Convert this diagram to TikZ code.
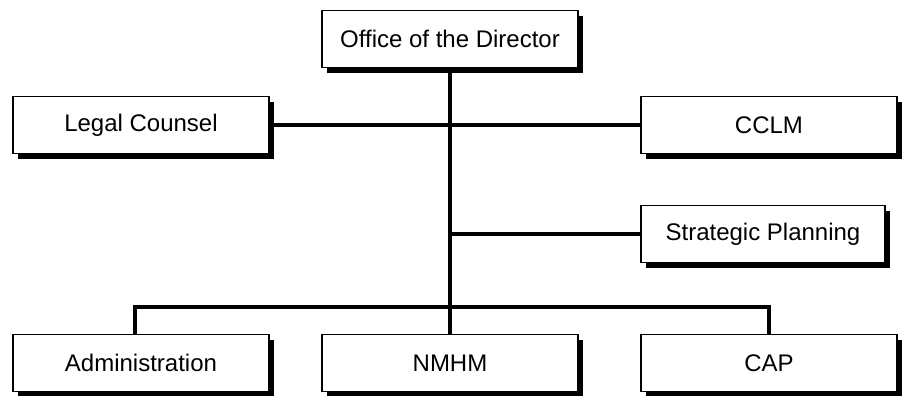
\documentclass[tikz,border=0pt]{standalone}
\usepackage{fontspec}
\setmainfont{Liberation Sans}
\usetikzlibrary{shadows,positioning}

\begin{document}
\begin{tikzpicture}[x=0.5pt, y=0.5pt,
  unit/.style={draw, line width=0.8pt, fill=white, minimum width=128pt, minimum height=28.5pt,
    font=\fontsize{12}{14}\selectfont,
    drop shadow={shadow xshift=2.5pt, shadow yshift=-3pt, fill=black, opacity=1}},
  link/.style={line width=1.6pt}]
\useasboundingbox (0,0) rectangle (902,396);

\node (director) at (450, 357) [unit] {Office of the Director};

\node (legal) at (141, 271) [unit] {Legal Counsel};
\node (cclm) at (769, 271) [unit] {CCLM};

\node (strategic) at (763, 162) [unit, minimum width=122pt] {Strategic Planning};

\node (admin) at (141, 33) [unit] {Administration};
\node (nmhm) at (450, 33) [unit] {NMHM};
\node (cap) at (769, 33) [unit] {CAP};

\coordinate (split) at (450, 89);

\draw[link] (director) -- (nmhm);
\draw[link] (legal) -- (cclm);
\draw[link] (strategic) -- (strategic -| director);
\draw[link] ([xshift=-3pt]admin.north) |- (split) -| (cap);
\end{tikzpicture}
\end{document}
